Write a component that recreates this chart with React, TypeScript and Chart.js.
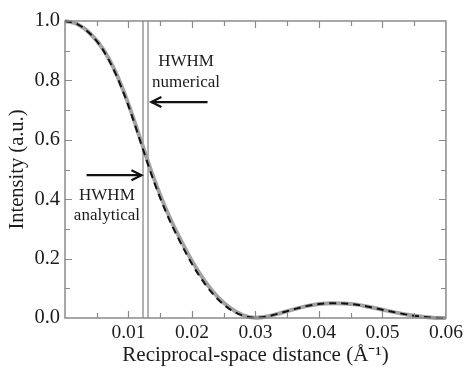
import { useEffect, useRef } from 'react';
import { Chart, registerables } from 'chart.js';

Chart.register(...registerables);

// Reciprocal-space distance (Å^-1)
const xValues = [
  0, 0.002, 0.004, 0.006, 0.008, 0.01, 0.012, 0.014, 0.016, 0.018, 0.02,
  0.022, 0.024, 0.026, 0.028, 0.03, 0.032, 0.034, 0.036, 0.038, 0.04,
  0.042, 0.044, 0.046, 0.048, 0.05, 0.052, 0.054, 0.056, 0.058, 0.06,
];
// grey solid curve
const numericalIntensity = [
  1.0, 0.989, 0.957, 0.905, 0.826, 0.72, 0.594, 0.47, 0.362, 0.272, 0.192,
  0.125, 0.072, 0.034, 0.01, 0.001, 0.006, 0.017, 0.029, 0.04, 0.047,
  0.05, 0.049, 0.045, 0.037, 0.028, 0.019, 0.011, 0.005, 0.001, 0.0,
];
// black dashed curve
const analyticalIntensity = [
  1.0, 0.989, 0.956, 0.902, 0.821, 0.714, 0.586, 0.46, 0.352, 0.262, 0.182,
  0.116, 0.065, 0.029, 0.008, 0.001, 0.006, 0.017, 0.029, 0.04, 0.047,
  0.05, 0.049, 0.045, 0.037, 0.028, 0.019, 0.011, 0.005, 0.001, 0.0,
];
// HWHM vertical markers
const hwhmAnalytical = 0.01229;
const hwhmNumerical = 0.01308;

const xMajorTicks = [0.01, 0.02, 0.03, 0.04, 0.05];
const xMinorTicks = [0.005, 0.015, 0.025, 0.035, 0.045, 0.055];
const yMajorTicks = [0.2, 0.4, 0.6, 0.8];
const yMinorTicks = [0.1, 0.3, 0.5, 0.7, 0.9];

const SERIF = "'Liberation Serif', 'Times New Roman', serif";
const TEXT = '#1c1c1c';

const decorPlugin = {
  id: 'decor',
  afterDatasetsDraw(chart: any) {
    const { ctx, chartArea: a, scales } = chart;
    const x = scales.x;
    const y = scales.y;
    ctx.save();
    ctx.strokeStyle = '#8a8a8a';
    ctx.lineWidth = 1.2;
    const tickX = (vals: number[], len: number) => {
      vals.forEach((v) => {
        const px = Math.round(x.getPixelForValue(v)) + 0.5;
        ctx.beginPath();
        ctx.moveTo(px, a.bottom);
        ctx.lineTo(px, a.bottom - len);
        ctx.moveTo(px, a.top);
        ctx.lineTo(px, a.top + len);
        ctx.stroke();
      });
    };
    const tickY = (vals: number[], len: number) => {
      vals.forEach((v) => {
        const py = Math.round(y.getPixelForValue(v)) + 0.5;
        ctx.beginPath();
        ctx.moveTo(a.left, py);
        ctx.lineTo(a.left + len, py);
        ctx.moveTo(a.right, py);
        ctx.lineTo(a.right - len, py);
        ctx.stroke();
      });
    };
    tickX(xMajorTicks, 7);
    tickX(xMinorTicks, 5);
    tickY(yMajorTicks, 7);
    tickY(yMinorTicks, 5);
    ctx.strokeStyle = '#8a8a8a';
    ctx.lineWidth = 1.5;
    ctx.strokeRect(a.left, a.top, a.right - a.left, a.bottom - a.top);

    const arrow = (fromV: number, toV: number, yv: number) => {
      const x0 = x.getPixelForValue(fromV);
      const x1 = x.getPixelForValue(toV);
      const py = y.getPixelForValue(yv);
      const dir = x1 > x0 ? 1 : -1;
      ctx.strokeStyle = '#111';
      ctx.lineWidth = 2.2;
      ctx.beginPath();
      ctx.moveTo(x0, py);
      ctx.lineTo(x1, py);
      ctx.stroke();
      ctx.beginPath();
      ctx.moveTo(x1 - dir * 10, py - 5);
      ctx.lineTo(x1, py);
      ctx.lineTo(x1 - dir * 10, py + 5);
      ctx.stroke();
    };
    arrow(0.02245, 0.01361, 0.727);
    arrow(0.0034, 0.01204, 0.481);

    ctx.fillStyle = TEXT;
    ctx.font = `17px ${SERIF}`;
    ctx.textAlign = 'center';
    ctx.textBaseline = 'middle';
    const label = (text: string, xv: number, yv: number) => {
      ctx.fillText(text, x.getPixelForValue(xv), y.getPixelForValue(yv));
    };
    label('HWHM', 0.01907, 0.862);
    label('numerical', 0.01907, 0.794);
    label('HWHM', 0.0066, 0.413);
    label('analytical', 0.0066, 0.346);
    ctx.restore();
  },
};

export default function App() {
  const ref = useRef<HTMLCanvasElement>(null);

  useEffect(() => {
    if (!ref.current) return;
    const toPts = (vals: number[]) => xValues.map((xv, i) => ({ x: xv, y: vals[i] }));
    const vLine = (xv: number) => [
      { x: xv, y: 0 },
      { x: xv, y: 1 },
    ];
    const chart = new Chart(ref.current, {
      type: 'line',
      data: {
        datasets: [
          {
            label: 'analytical',
            data: toPts(analyticalIntensity),
            borderColor: '#111',
            borderWidth: 2,
            borderDash: [7, 5],
            pointRadius: 0,
            cubicInterpolationMode: 'monotone',
            fill: false,
            clip: false,
          } as any,
          {
            label: 'numerical',
            data: toPts(numericalIntensity),
            borderColor: '#a3a3a3',
            borderWidth: 4,
            pointRadius: 0,
            cubicInterpolationMode: 'monotone',
            fill: false,
            clip: false,
          } as any,
          {
            label: 'HWHM analytical',
            data: vLine(hwhmAnalytical),
            borderColor: '#a0a0a0',
            borderWidth: 1.6,
            pointRadius: 0,
          },
          {
            label: 'HWHM numerical',
            data: vLine(hwhmNumerical),
            borderColor: '#a0a0a0',
            borderWidth: 1.6,
            pointRadius: 0,
          },
        ],
      },
      options: {
        animation: false,
        responsive: false,
        layout: { padding: { left: 0, right: 19, top: 21, bottom: 0 } },
        plugins: { legend: { display: false }, tooltip: { enabled: false } },
        scales: {
          x: {
            type: 'linear',
            min: 0,
            max: 0.06,
            afterFit: (s: any) => {
              s.height = 50;
            },
            afterBuildTicks: (s: any) => {
              s.ticks = [0, ...xMajorTicks, 0.06].map((v) => ({ value: v }));
            },
            grid: { display: false, drawTicks: false },
            border: { display: false },
            ticks: {
              autoSkip: false,
              maxRotation: 0,
              padding: 3,
              color: TEXT,
              font: { family: SERIF, size: 19.5 },
              callback: (v: any) => (v === 0 ? '' : Number(v).toFixed(2)),
            },
            title: {
              display: true,
              text: 'Reciprocal-space distance (Å⁻¹)',
              color: TEXT,
              font: { family: SERIF, size: 21 },
              padding: { top: 0, bottom: 0 },
            },
          },
          y: {
            type: 'linear',
            min: 0,
            max: 1,
            afterFit: (s: any) => {
              s.width = 65;
            },
            afterBuildTicks: (s: any) => {
              s.ticks = [0, ...yMajorTicks, 1].map((v) => ({ value: v }));
            },
            grid: { display: false, drawTicks: false },
            border: { display: false },
            ticks: {
              padding: 5,
              color: TEXT,
              font: { family: SERIF, size: 20.5 },
              callback: (v: any) => Number(v).toFixed(1),
            },
            title: {
              display: true,
              text: 'Intensity (a.u.)',
              color: TEXT,
              font: { family: SERIF, size: 20.5 },
              padding: { top: 5, bottom: 0 },
            },
          },
        },
      },
      plugins: [decorPlugin],
    });
    return () => chart.destroy();
  }, []);

  return (
    <canvas
      ref={ref}
      width={466}
      height={368}
      style={{ position: 'absolute', left: 0, top: 0, width: 466, height: 368 }}
    />
  );
}
